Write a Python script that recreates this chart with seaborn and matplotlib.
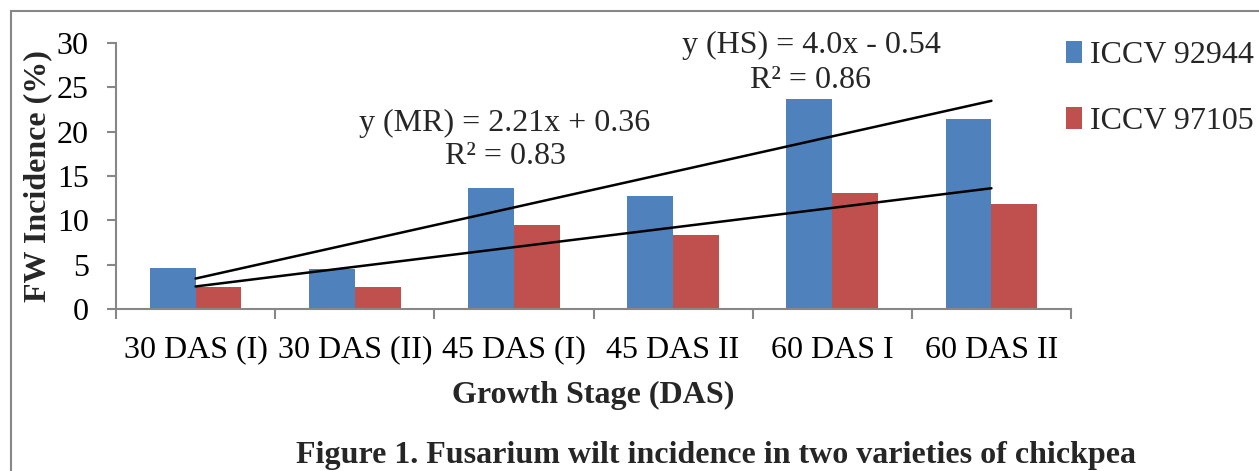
import matplotlib
matplotlib.use("Agg")
import matplotlib.pyplot as plt
from matplotlib.patches import Rectangle
import numpy as np
import pandas as pd
import seaborn as sns

# Growth stages and incidence (%) for the two chickpea varieties
stages = ["30 DAS (I)", "30 DAS (II)", "45 DAS (I)", "45 DAS II", "60 DAS I", "60 DAS II"]
iccv_92944 = [4.6, 4.5, 13.6, 12.7, 23.7, 21.4]
iccv_97105 = [2.5, 2.5, 9.5, 8.4, 13.1, 11.9]
varieties = ["ICCV 92944", "ICCV 97105"]

# Linear trend equations (x = stage number 1..6)
hs_slope, hs_intercept = 4.0, -0.54
mr_slope, mr_intercept = 2.21, 0.36
hs_label = ["y (HS) = 4.0x - 0.54", "R² = 0.86"]
mr_label = ["y (MR) = 2.21x + 0.36", "R² = 0.83"]

yticks = [0, 5, 10, 15, 20, 25, 30]

df = pd.DataFrame({
    "stage": stages * 2,
    "value": iccv_92944 + iccv_97105,
    "variety": [varieties[0]] * len(stages) + [varieties[1]] * len(stages),
})

sns.set_theme(style="white")
plt.rcParams["font.family"] = ["Liberation Serif", "DejaVu Serif"]

W, H, DPI = 1259, 471, 100
fig = plt.figure(figsize=(W / DPI, H / DPI), dpi=DPI)
ax = fig.add_axes([116 / W, 1 - 309.3 / H, (1071 - 116) / W, (309.3 - 42.7) / H])

palette = {varieties[0]: "#4F81BD", varieties[1]: "#C0504D"}
sns.barplot(data=df, x="stage", y="value", hue="variety", palette=palette,
            width=0.575, gap=0, linewidth=0, saturation=1, ax=ax, errorbar=None)

# trend lines
xs = np.arange(len(stages))
ax.plot(xs, hs_slope * (xs + 1) + hs_intercept, color="black", lw=1.8, zorder=5)
ax.plot(xs, mr_slope * (xs + 1) + mr_intercept, color="black", lw=1.8, zorder=5)

ax.set_xlim(-0.5, len(stages) - 0.5)
ax.set_ylim(0, 30)
ax.set_yticks(yticks)

fs = 23
grey = "#878787"
for side in ["top", "right"]:
    ax.spines[side].set_visible(False)
for side in ["left", "bottom"]:
    ax.spines[side].set_color(grey)
    ax.spines[side].set_linewidth(1.5)

ax.tick_params(axis="y", which="major", length=6.5, width=1.5, color=grey,
               direction="out", labelsize=fs, pad=13, left=True)
ax.set_xticks(np.arange(-0.5, len(stages), 1.0), minor=True)
ax.tick_params(axis="x", which="minor", length=7, width=1.5, color=grey,
               direction="out", bottom=True)
ax.tick_params(axis="x", which="major", length=0, labelsize=fs, pad=19)
ax.set_xticklabels(stages)

ax.set_xlabel("Growth Stage (DAS)", fontsize=fs, fontweight="bold", labelpad=12)
ax.set_ylabel("FW Incidence (%)", fontsize=fs, fontweight="bold")
ax.yaxis.set_label_coords(-64 / (1071 - 116), 0.5)
for lbl in ax.get_yticklabels() + ax.get_xticklabels():
    lbl.set_color("black")

# equation annotations
def px(x, y):
    return x / W, 1 - y / H

for (cx, cy, dy), lines in [((505, 123, 34), mr_label), ((811, 45, 35), hs_label)]:
    fig.text(*px(cx, cy), lines[0], ha="center", va="center", fontsize=fs)
    fig.text(*px(cx, cy + dy), lines[1], ha="center", va="center", fontsize=fs)

# legend
handles, labels = ax.get_legend_handles_labels()
ax.legend(handles, labels, loc="upper left", bbox_to_anchor=px(1066, 41),
          bbox_transform=fig.transFigure, frameon=False, fontsize=fs,
          handlelength=0.5, handleheight=0.7, handletextpad=0.25,
          labelspacing=1.15, borderpad=0, borderaxespad=0)

# caption
fig.text(*px(716, 455), "Figure 1. Fusarium wilt incidence in two varieties of chickpea",
         ha="center", va="center", fontsize=fs, fontweight="bold")

# outer frame
fig.patches.append(Rectangle((11 / W, -0.1), 1.2, 1.1 - 11 / H,
                             transform=fig.transFigure, fill=False,
                             edgecolor=grey, linewidth=1.5))

fig.savefig("out.png", dpi=DPI)
